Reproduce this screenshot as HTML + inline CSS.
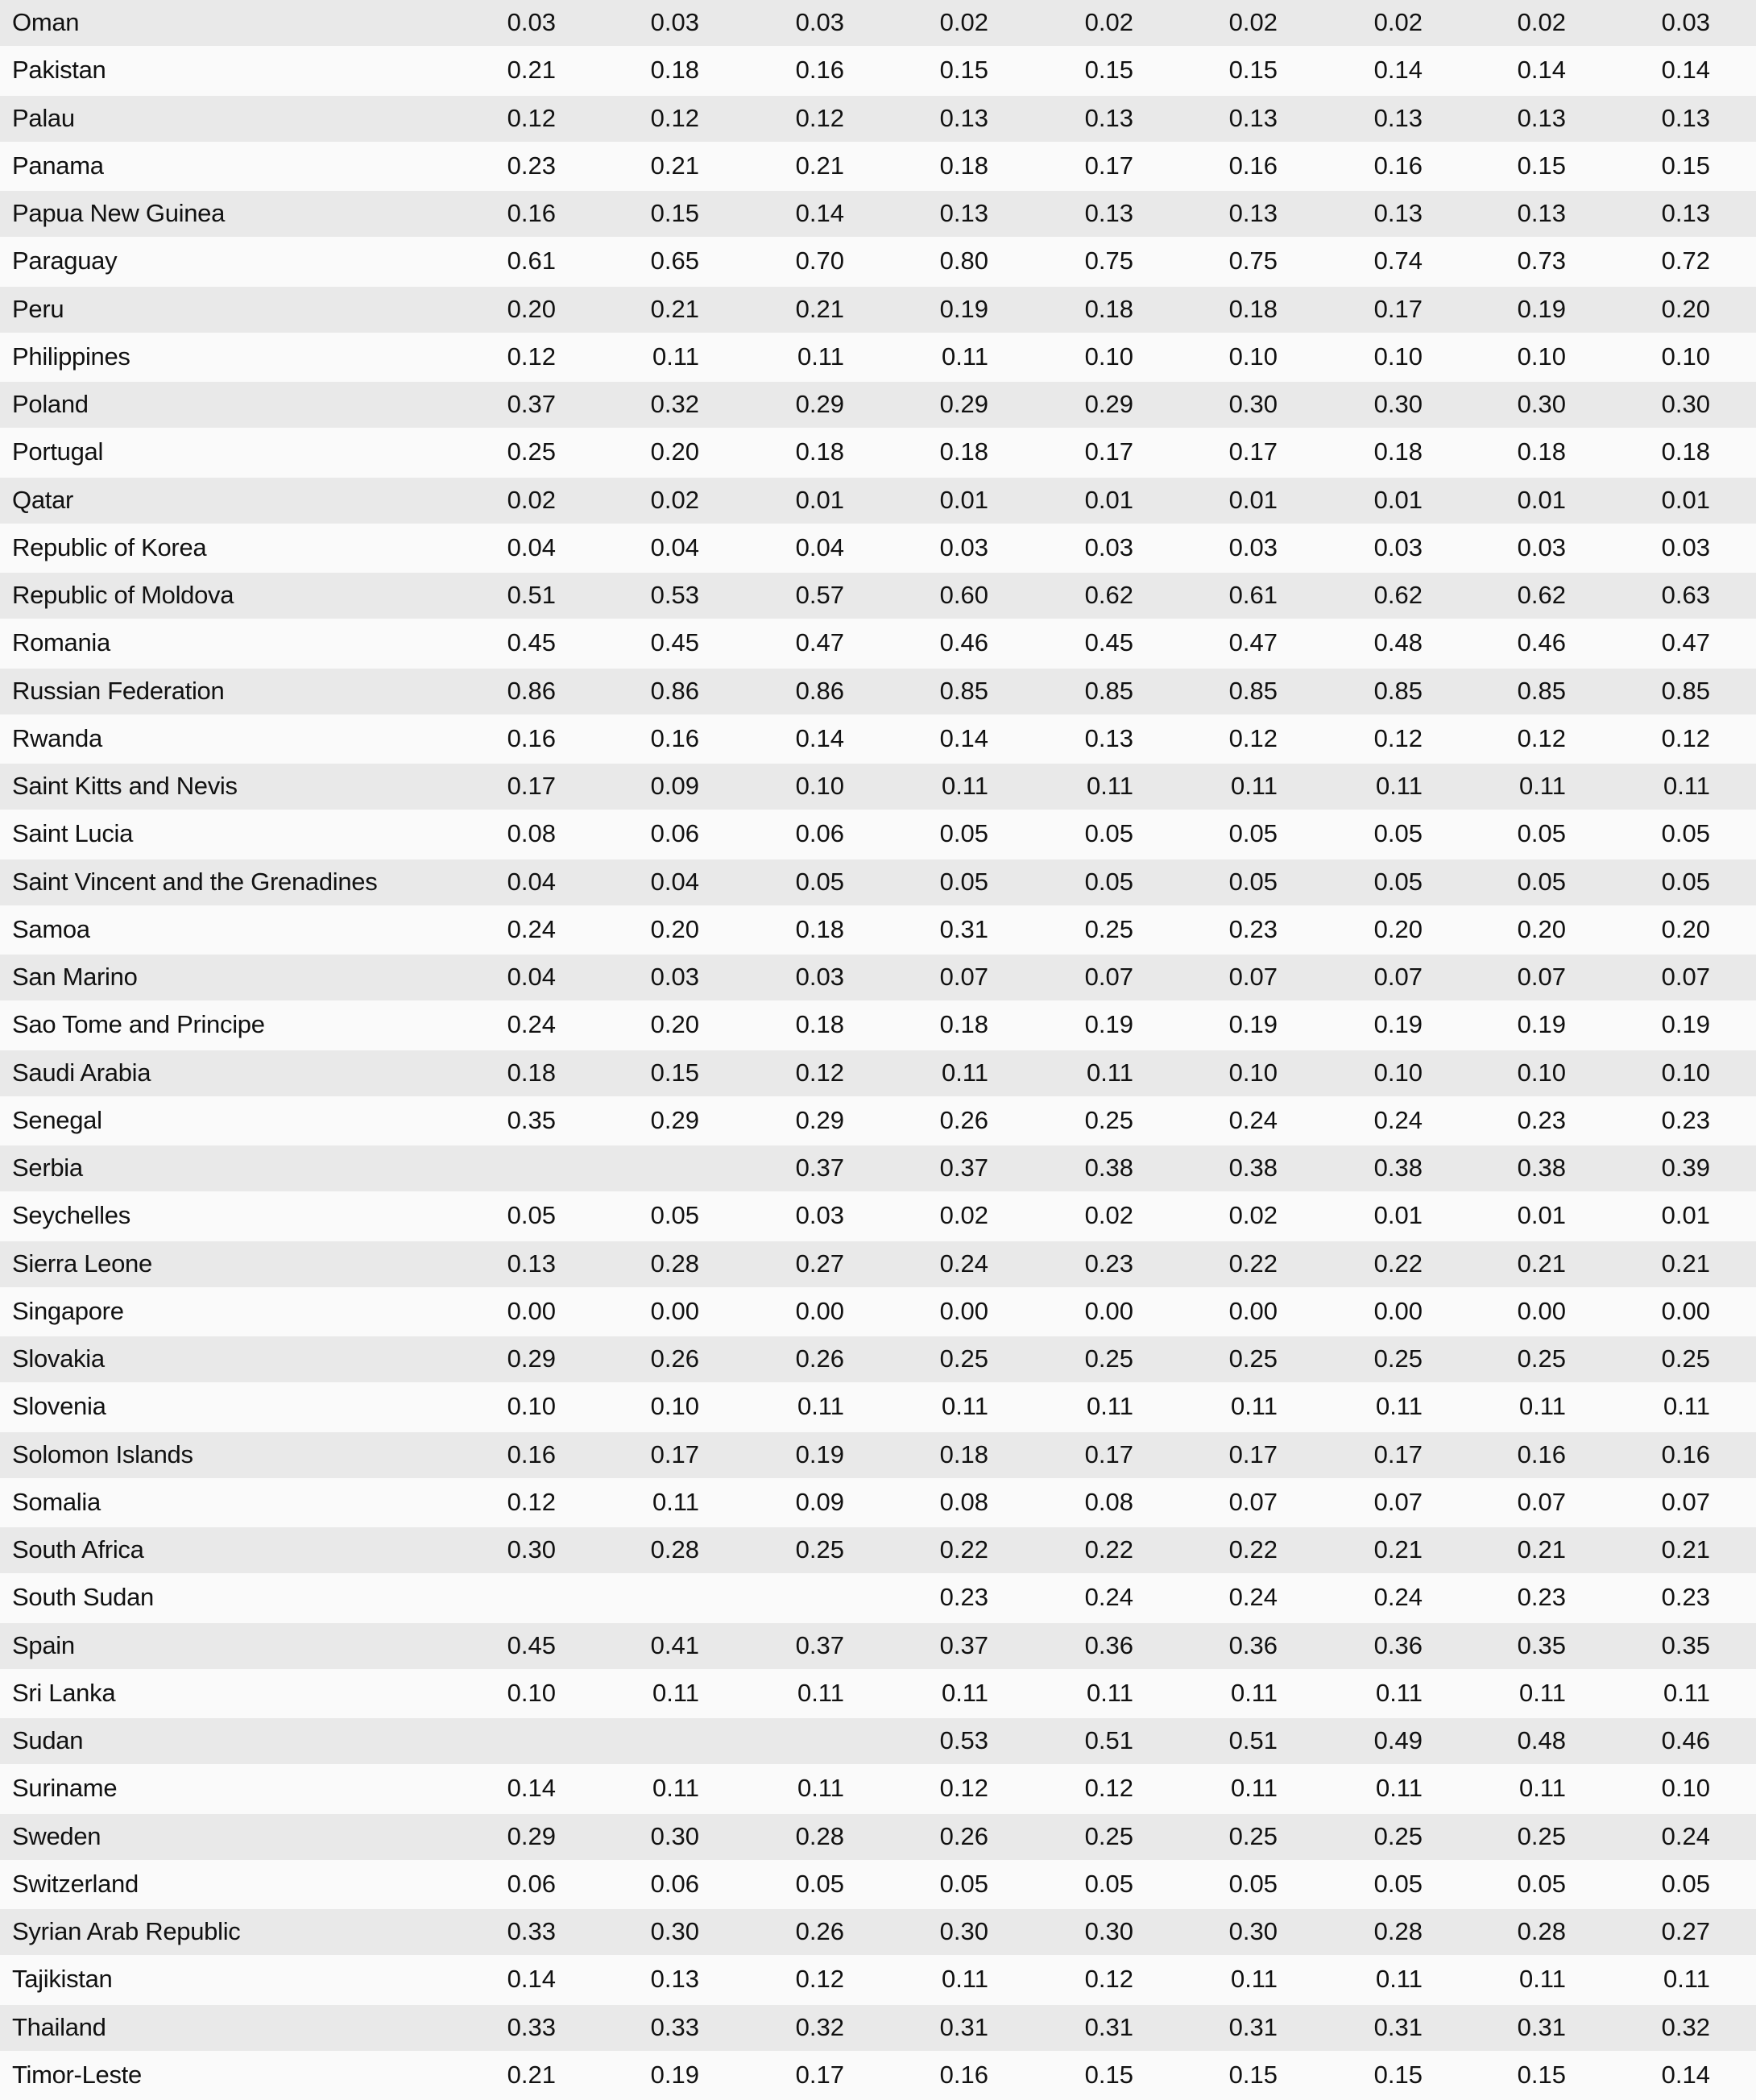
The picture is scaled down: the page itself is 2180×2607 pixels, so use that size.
<!DOCTYPE html>
<html><head><meta charset="utf-8"><style>
html,body{margin:0;padding:0;background:#fafafa;}
body{width:2180px;height:2607px;overflow:hidden;font-family:"Liberation Sans",sans-serif;font-size:31px;color:#111;}
.r{position:relative;height:57px;margin-bottom:2.25px;line-height:55px;white-space:nowrap;}
.r:nth-child(odd){background:#e9e9e9;}
.r b{font-weight:normal;position:absolute;left:15px;top:0;letter-spacing:-0.3px;}
.r i{font-style:normal;position:absolute;top:0;width:120px;text-align:right;}
.r i:nth-of-type(1){left:570px}.r i:nth-of-type(2){left:748px}.r i:nth-of-type(3){left:928px}
.r i:nth-of-type(4){left:1107px}.r i:nth-of-type(5){left:1287px}.r i:nth-of-type(6){left:1466px}
.r i:nth-of-type(7){left:1646px}.r i:nth-of-type(8){left:1824px}.r i:nth-of-type(9){left:2003px}
</style></head><body>
<div class="r"><b>Oman</b><i>0.03</i><i>0.03</i><i>0.03</i><i>0.02</i><i>0.02</i><i>0.02</i><i>0.02</i><i>0.02</i><i>0.03</i></div>
<div class="r"><b>Pakistan</b><i>0.21</i><i>0.18</i><i>0.16</i><i>0.15</i><i>0.15</i><i>0.15</i><i>0.14</i><i>0.14</i><i>0.14</i></div>
<div class="r"><b>Palau</b><i>0.12</i><i>0.12</i><i>0.12</i><i>0.13</i><i>0.13</i><i>0.13</i><i>0.13</i><i>0.13</i><i>0.13</i></div>
<div class="r"><b>Panama</b><i>0.23</i><i>0.21</i><i>0.21</i><i>0.18</i><i>0.17</i><i>0.16</i><i>0.16</i><i>0.15</i><i>0.15</i></div>
<div class="r"><b>Papua New Guinea</b><i>0.16</i><i>0.15</i><i>0.14</i><i>0.13</i><i>0.13</i><i>0.13</i><i>0.13</i><i>0.13</i><i>0.13</i></div>
<div class="r"><b>Paraguay</b><i>0.61</i><i>0.65</i><i>0.70</i><i>0.80</i><i>0.75</i><i>0.75</i><i>0.74</i><i>0.73</i><i>0.72</i></div>
<div class="r"><b>Peru</b><i>0.20</i><i>0.21</i><i>0.21</i><i>0.19</i><i>0.18</i><i>0.18</i><i>0.17</i><i>0.19</i><i>0.20</i></div>
<div class="r"><b>Philippines</b><i>0.12</i><i>0.11</i><i>0.11</i><i>0.11</i><i>0.10</i><i>0.10</i><i>0.10</i><i>0.10</i><i>0.10</i></div>
<div class="r"><b>Poland</b><i>0.37</i><i>0.32</i><i>0.29</i><i>0.29</i><i>0.29</i><i>0.30</i><i>0.30</i><i>0.30</i><i>0.30</i></div>
<div class="r"><b>Portugal</b><i>0.25</i><i>0.20</i><i>0.18</i><i>0.18</i><i>0.17</i><i>0.17</i><i>0.18</i><i>0.18</i><i>0.18</i></div>
<div class="r"><b>Qatar</b><i>0.02</i><i>0.02</i><i>0.01</i><i>0.01</i><i>0.01</i><i>0.01</i><i>0.01</i><i>0.01</i><i>0.01</i></div>
<div class="r"><b>Republic of Korea</b><i>0.04</i><i>0.04</i><i>0.04</i><i>0.03</i><i>0.03</i><i>0.03</i><i>0.03</i><i>0.03</i><i>0.03</i></div>
<div class="r"><b>Republic of Moldova</b><i>0.51</i><i>0.53</i><i>0.57</i><i>0.60</i><i>0.62</i><i>0.61</i><i>0.62</i><i>0.62</i><i>0.63</i></div>
<div class="r"><b>Romania</b><i>0.45</i><i>0.45</i><i>0.47</i><i>0.46</i><i>0.45</i><i>0.47</i><i>0.48</i><i>0.46</i><i>0.47</i></div>
<div class="r"><b>Russian Federation</b><i>0.86</i><i>0.86</i><i>0.86</i><i>0.85</i><i>0.85</i><i>0.85</i><i>0.85</i><i>0.85</i><i>0.85</i></div>
<div class="r"><b>Rwanda</b><i>0.16</i><i>0.16</i><i>0.14</i><i>0.14</i><i>0.13</i><i>0.12</i><i>0.12</i><i>0.12</i><i>0.12</i></div>
<div class="r"><b>Saint Kitts and Nevis</b><i>0.17</i><i>0.09</i><i>0.10</i><i>0.11</i><i>0.11</i><i>0.11</i><i>0.11</i><i>0.11</i><i>0.11</i></div>
<div class="r"><b>Saint Lucia</b><i>0.08</i><i>0.06</i><i>0.06</i><i>0.05</i><i>0.05</i><i>0.05</i><i>0.05</i><i>0.05</i><i>0.05</i></div>
<div class="r"><b>Saint Vincent and the Grenadines</b><i>0.04</i><i>0.04</i><i>0.05</i><i>0.05</i><i>0.05</i><i>0.05</i><i>0.05</i><i>0.05</i><i>0.05</i></div>
<div class="r"><b>Samoa</b><i>0.24</i><i>0.20</i><i>0.18</i><i>0.31</i><i>0.25</i><i>0.23</i><i>0.20</i><i>0.20</i><i>0.20</i></div>
<div class="r"><b>San Marino</b><i>0.04</i><i>0.03</i><i>0.03</i><i>0.07</i><i>0.07</i><i>0.07</i><i>0.07</i><i>0.07</i><i>0.07</i></div>
<div class="r"><b>Sao Tome and Principe</b><i>0.24</i><i>0.20</i><i>0.18</i><i>0.18</i><i>0.19</i><i>0.19</i><i>0.19</i><i>0.19</i><i>0.19</i></div>
<div class="r"><b>Saudi Arabia</b><i>0.18</i><i>0.15</i><i>0.12</i><i>0.11</i><i>0.11</i><i>0.10</i><i>0.10</i><i>0.10</i><i>0.10</i></div>
<div class="r"><b>Senegal</b><i>0.35</i><i>0.29</i><i>0.29</i><i>0.26</i><i>0.25</i><i>0.24</i><i>0.24</i><i>0.23</i><i>0.23</i></div>
<div class="r"><b>Serbia</b><i></i><i></i><i>0.37</i><i>0.37</i><i>0.38</i><i>0.38</i><i>0.38</i><i>0.38</i><i>0.39</i></div>
<div class="r"><b>Seychelles</b><i>0.05</i><i>0.05</i><i>0.03</i><i>0.02</i><i>0.02</i><i>0.02</i><i>0.01</i><i>0.01</i><i>0.01</i></div>
<div class="r"><b>Sierra Leone</b><i>0.13</i><i>0.28</i><i>0.27</i><i>0.24</i><i>0.23</i><i>0.22</i><i>0.22</i><i>0.21</i><i>0.21</i></div>
<div class="r"><b>Singapore</b><i>0.00</i><i>0.00</i><i>0.00</i><i>0.00</i><i>0.00</i><i>0.00</i><i>0.00</i><i>0.00</i><i>0.00</i></div>
<div class="r"><b>Slovakia</b><i>0.29</i><i>0.26</i><i>0.26</i><i>0.25</i><i>0.25</i><i>0.25</i><i>0.25</i><i>0.25</i><i>0.25</i></div>
<div class="r"><b>Slovenia</b><i>0.10</i><i>0.10</i><i>0.11</i><i>0.11</i><i>0.11</i><i>0.11</i><i>0.11</i><i>0.11</i><i>0.11</i></div>
<div class="r"><b>Solomon Islands</b><i>0.16</i><i>0.17</i><i>0.19</i><i>0.18</i><i>0.17</i><i>0.17</i><i>0.17</i><i>0.16</i><i>0.16</i></div>
<div class="r"><b>Somalia</b><i>0.12</i><i>0.11</i><i>0.09</i><i>0.08</i><i>0.08</i><i>0.07</i><i>0.07</i><i>0.07</i><i>0.07</i></div>
<div class="r"><b>South Africa</b><i>0.30</i><i>0.28</i><i>0.25</i><i>0.22</i><i>0.22</i><i>0.22</i><i>0.21</i><i>0.21</i><i>0.21</i></div>
<div class="r"><b>South Sudan</b><i></i><i></i><i></i><i>0.23</i><i>0.24</i><i>0.24</i><i>0.24</i><i>0.23</i><i>0.23</i></div>
<div class="r"><b>Spain</b><i>0.45</i><i>0.41</i><i>0.37</i><i>0.37</i><i>0.36</i><i>0.36</i><i>0.36</i><i>0.35</i><i>0.35</i></div>
<div class="r"><b>Sri Lanka</b><i>0.10</i><i>0.11</i><i>0.11</i><i>0.11</i><i>0.11</i><i>0.11</i><i>0.11</i><i>0.11</i><i>0.11</i></div>
<div class="r"><b>Sudan</b><i></i><i></i><i></i><i>0.53</i><i>0.51</i><i>0.51</i><i>0.49</i><i>0.48</i><i>0.46</i></div>
<div class="r"><b>Suriname</b><i>0.14</i><i>0.11</i><i>0.11</i><i>0.12</i><i>0.12</i><i>0.11</i><i>0.11</i><i>0.11</i><i>0.10</i></div>
<div class="r"><b>Sweden</b><i>0.29</i><i>0.30</i><i>0.28</i><i>0.26</i><i>0.25</i><i>0.25</i><i>0.25</i><i>0.25</i><i>0.24</i></div>
<div class="r"><b>Switzerland</b><i>0.06</i><i>0.06</i><i>0.05</i><i>0.05</i><i>0.05</i><i>0.05</i><i>0.05</i><i>0.05</i><i>0.05</i></div>
<div class="r"><b>Syrian Arab Republic</b><i>0.33</i><i>0.30</i><i>0.26</i><i>0.30</i><i>0.30</i><i>0.30</i><i>0.28</i><i>0.28</i><i>0.27</i></div>
<div class="r"><b>Tajikistan</b><i>0.14</i><i>0.13</i><i>0.12</i><i>0.11</i><i>0.12</i><i>0.11</i><i>0.11</i><i>0.11</i><i>0.11</i></div>
<div class="r"><b>Thailand</b><i>0.33</i><i>0.33</i><i>0.32</i><i>0.31</i><i>0.31</i><i>0.31</i><i>0.31</i><i>0.31</i><i>0.32</i></div>
<div class="r"><b>Timor-Leste</b><i>0.21</i><i>0.19</i><i>0.17</i><i>0.16</i><i>0.15</i><i>0.15</i><i>0.15</i><i>0.15</i><i>0.14</i></div>
</body></html>
